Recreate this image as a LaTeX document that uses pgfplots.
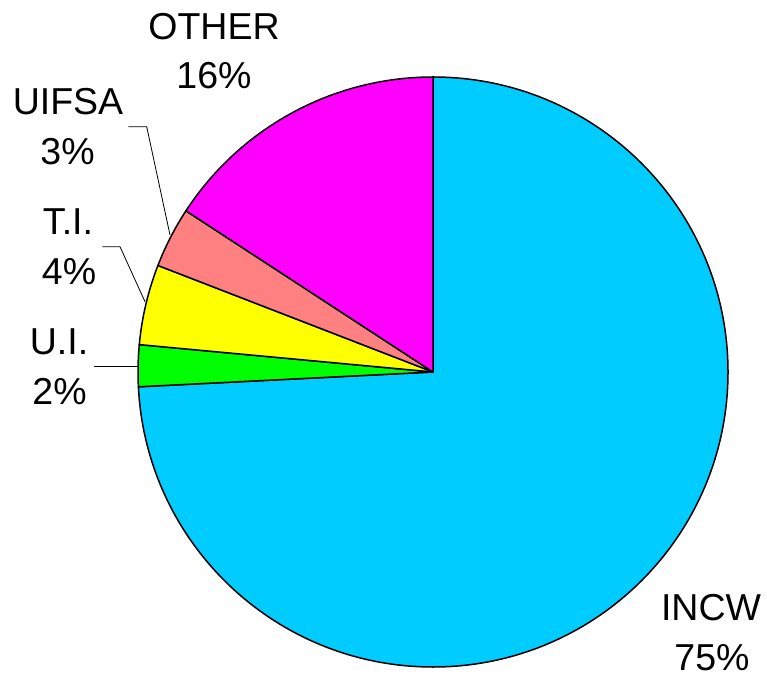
\documentclass[border=0pt]{standalone}
\usepackage{pgfplots}
\pgfplotsset{compat=1.18}
\usepackage{fontspec}
\setmainfont{Liberation Sans}
\definecolor{incw}{HTML}{00CCFF}
\definecolor{ui}{HTML}{00FF00}
\definecolor{ti}{HTML}{FFFF00}
\definecolor{uifsa}{HTML}{FF8080}
\definecolor{other}{HTML}{FF00FF}
% shares in percent, clockwise from 12 o'clock
\def\vINCW{74.2}
\def\vUI{2.28}
\def\vTI{4.4}
\def\vUIFSA{3.32}
\def\vOTHER{15.8}
\begin{document}
\begin{tikzpicture}[x=1pt,y=1pt]
\path[use as bounding box] (0,0) rectangle (767,677);
\begin{axis}[at={(138pt,10pt)}, anchor=south west, scale only axis,
  width=590pt, height=590pt, xmin=-1, xmax=1, ymin=-1, ymax=1,
  hide axis, clip=false]
\filldraw[fill=incw, line width=1.5pt, line join=round]
  (axis cs:0,0) -- ++(90:295pt) arc[start angle=90, end angle={90-3.6*\vINCW}, radius=295pt] -- cycle;
\filldraw[fill=ui, line width=1.5pt, line join=round]
  (axis cs:0,0) -- ++({90-3.6*\vINCW}:295pt) arc[start angle={90-3.6*\vINCW}, end angle={90-3.6*(\vINCW+\vUI)}, radius=295pt] -- cycle;
\filldraw[fill=ti, line width=1.5pt, line join=round]
  (axis cs:0,0) -- ++({90-3.6*(\vINCW+\vUI)}:295pt) arc[start angle={90-3.6*(\vINCW+\vUI)}, end angle={90-3.6*(\vINCW+\vUI+\vTI)}, radius=295pt] -- cycle;
\filldraw[fill=uifsa, line width=1.5pt, line join=round]
  (axis cs:0,0) -- ++({90-3.6*(\vINCW+\vUI+\vTI)}:295pt) arc[start angle={90-3.6*(\vINCW+\vUI+\vTI)}, end angle={90-3.6*(\vINCW+\vUI+\vTI+\vUIFSA)}, radius=295pt] -- cycle;
\filldraw[fill=other, line width=1.5pt, line join=round]
  (axis cs:0,0) -- ++({90-3.6*(\vINCW+\vUI+\vTI+\vUIFSA)}:295pt) arc[start angle={90-3.6*(\vINCW+\vUI+\vTI+\vUIFSA)}, end angle={-270}, radius=295pt] -- cycle;
\end{axis}
% leader lines
\draw[line width=0.8pt] (128.3,550.3) -- (146.7,550.3) -- (170,442);
\draw[line width=0.8pt] (102.3,430.3) -- (120,430.3) -- (145,375.3);
\draw[line width=0.8pt] (94.3,310.3) -- (138.3,310.3);
% labels
\begin{scope}[every node/.style={inner sep=0pt, anchor=base, font=\fontsize{37.5}{44}\selectfont}]
\node at (214,637.7) {OTHER};
\node at (214,588.7) {16\%};
\node at (68,562) {UIFSA};
\node at (67.5,512) {3\%};
\node at (68,442) {T.I.};
\node at (69,392) {4\%};
\node at (59,322) {U.I.};
\node at (59.5,272) {2\%};
\node at (711,57) {INCW};
\node at (712,7) {75\%};
\end{scope}
\end{tikzpicture}
\end{document}
